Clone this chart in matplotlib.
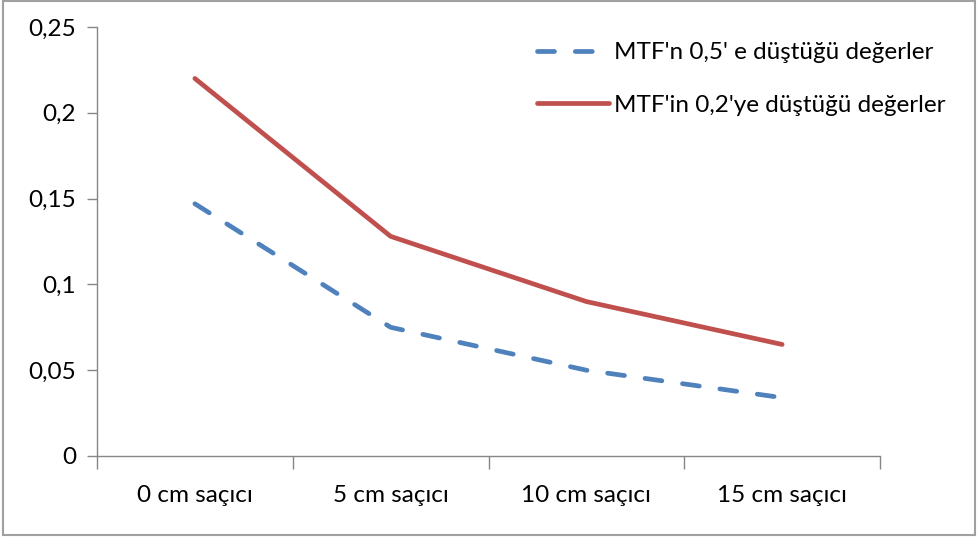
import matplotlib.pyplot as plt
from matplotlib.patches import Rectangle

plt.rcParams['font.family'] = ['Lato', 'DejaVu Sans']

# Data
categories = ['0 cm saçıcı', '5 cm saçıcı', '10 cm saçıcı', '15 cm saçıcı']
mtf_05 = [0.147, 0.075, 0.050, 0.034]
mtf_02 = [0.220, 0.128, 0.090, 0.065]
label_05 = "MTF'n 0,5' e düştüğü değerler"
label_02 = "MTF'in 0,2'ye düştüğü değerler"
yticks = [0, 0.05, 0.1, 0.15, 0.2, 0.25]
ytick_labels = ['0', '0,05', '0,1', '0,15', '0,2', '0,25']

BLUE = '#4F81BD'
RED = '#C0504D'
AXIS = '#868686'
FS = 17.5

fig = plt.figure(figsize=(9.78, 5.37), dpi=100)
ax = fig.add_axes([97 / 978, 1 - 456 / 537, 783 / 978, 429 / 537])

x = list(range(len(categories)))
ax.plot(x, mtf_05, color=BLUE, lw=3.4, dashes=(3.6, 4.4),
        dash_capstyle='round', solid_capstyle='round', label=label_05)
ax.plot(x, mtf_02, color=RED, lw=3.4, solid_capstyle='round',
        solid_joinstyle='round', label=label_02)

ax.set_xlim(-0.5, len(categories) - 0.5)
ax.set_ylim(0, 0.25)

ax.set_yticks(yticks)
ax.set_yticklabels(ytick_labels)
ax.set_xticks(x)
ax.set_xticklabels(categories)
ax.set_xticks([i - 0.5 for i in range(len(categories) + 1)], minor=True)

ax.tick_params(axis='y', length=7, width=1, color=AXIS, labelsize=FS,
               pad=8, labelcolor='#000000')
ax.tick_params(axis='x', which='major', length=0, labelsize=FS, pad=21)
ax.tick_params(axis='x', which='minor', length=9, width=1, color=AXIS)

for side in ['top', 'right']:
    ax.spines[side].set_visible(False)
for side in ['left', 'bottom']:
    ax.spines[side].set_color(AXIS)
    ax.spines[side].set_linewidth(1)

leg = ax.legend(loc='upper left', bbox_to_anchor=(537 / 978, 1 - 42 / 537),
                bbox_transform=fig.transFigure, frameon=False, fontsize=FS,
                handlelength=2.95, handletextpad=0.2, labelspacing=1.3,
                borderaxespad=0, borderpad=0)

# chart-area border
fig.patches.append(Rectangle((0.003, 0.004), 0.994, 0.994, transform=fig.transFigure,
                             fill=False, edgecolor='#A0A0A0', lw=1.5))

fig.savefig('out.png', dpi=100)
